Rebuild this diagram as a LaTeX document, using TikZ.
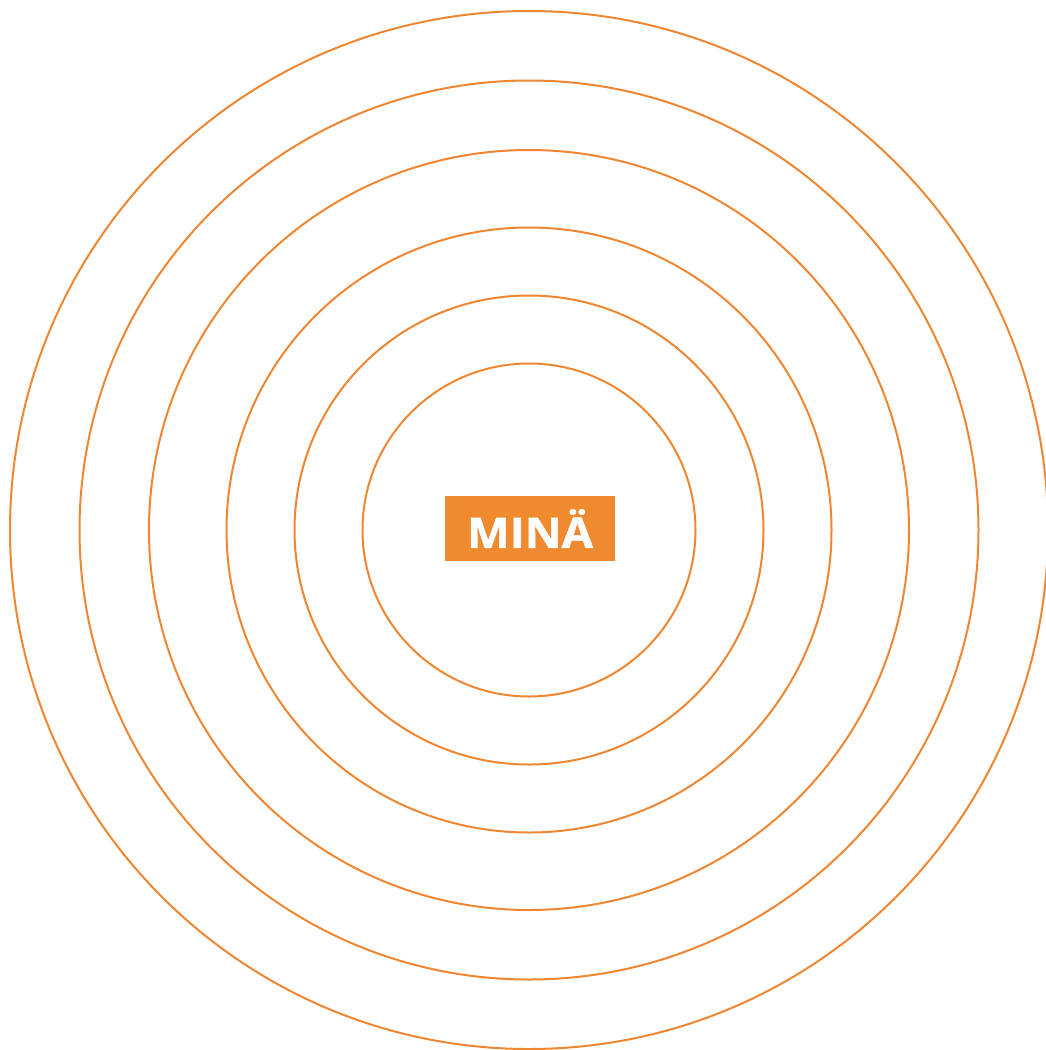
\documentclass[tikz,border=0pt]{standalone}
\usepackage{fontspec}
\newfontfamily\labelfont[BoldFeatures={FakeBold=1.3,FakeStretch=1.08}]{Open Sans}
\definecolor{ringorange}{HTML}{EE8632}
\definecolor{boxorange}{HTML}{F08A2E}
\begin{document}
\begin{tikzpicture}[x=1pt,y=-1pt,
  ring/.style={draw=ringorange,line width=2pt},
  minabox/.style={fill=boxorange,draw=none,inner sep=0pt,minimum width=170pt,minimum height=65pt,
    text=white,font=\labelfont\bfseries\fontsize{42}{42}\selectfont}]
\useasboundingbox (0,0) rectangle (1046,1050);
\coordinate (c) at (529,530);
\foreach \r in {166.5,234.5,302.5,380,449.5,519}
  \draw[ring] (c) circle[radius=\r];
\node[minabox] (mina) at (530,528.5) {MINÄ};
\end{tikzpicture}
\end{document}
